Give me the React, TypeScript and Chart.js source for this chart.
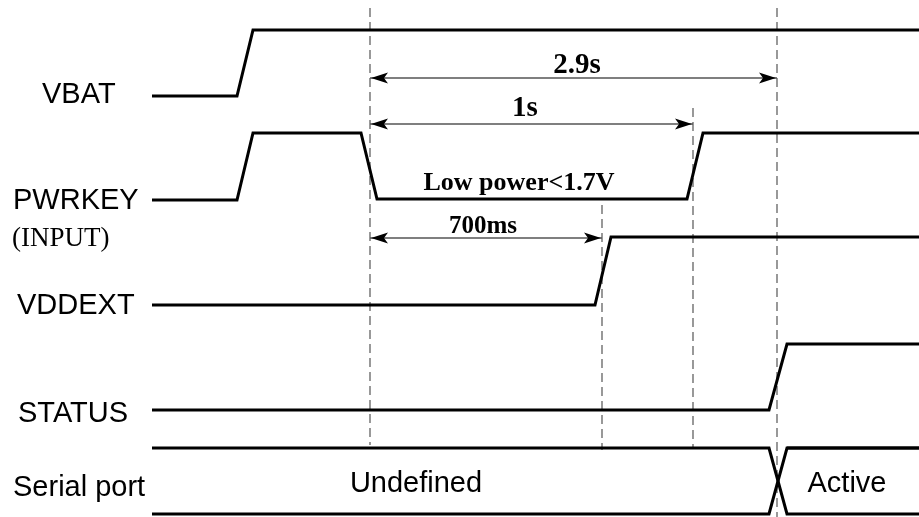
import React, { useEffect, useRef } from "react";
import { Chart, registerables } from "chart.js";

Chart.register(...registerables);

// Timeline (abstract horizontal units) and signal levels (vertical units, top = 0)
const vbatT = [152, 237, 253, 919];
const vbatV = [96, 96, 30, 30];

const pwrkeyT = [152, 237, 253, 361, 377, 687, 703, 919];
const pwrkeyV = [200, 200, 133, 133, 199, 199, 133, 133];

const vddextT = [152, 595, 611, 919];
const vddextV = [305, 305, 237, 237];

const statusT = [152, 769, 787, 919];
const statusV = [410, 410, 344, 344];

// Serial port bus (two rails crossing)
const busUpperT = [152, 769, 787, 919];
const busUpperV = [448, 448, 514, 514];
const busLowerT = [152, 769, 787, 919];
const busLowerV = [514, 514, 448, 448];
const busRightTopT = [787, 919];
const busRightTopV = [448, 448];

// Reference (dashed) markers
const markerT = [370, 602, 693, 777];
const markerFrom = [8, 205, 108, 8];
const markerTo = [445, 450, 448, 517];

// Dimension arrows
const arrowFrom = [370, 370, 370];
const arrowTo = [777, 693, 602];
const arrowLevel = [78, 124, 238];
const arrowText = ["2.9s", "1s", "700ms"];
const arrowTextT = [577, 525, 483];
const arrowTextV = [73, 116, 233];
const arrowTextSize = [29, 29, 25];

// Signal name labels
const signalNames = ["VBAT", "PWRKEY", "VDDEXT", "STATUS", "Serial port"];
const signalNameT = [42, 13, 17, 18, 13];
const signalNameV = [103, 209, 314, 422, 496];

// Other annotations
const noteText = ["(INPUT)", "Low power<1.7V", "Undefined", "Active"];
const noteT = [12, 519, 416, 847];
const noteV = [246, 190, 492, 492];

const pts = (t: number[], v: number[]) => t.map((x, i) => ({ x, y: v[i] }));

const textPlugin = {
  id: "timingText",
  afterDatasetsDraw(chart: any) {
    const { ctx, scales } = chart;
    const xs = scales.x;
    const ys = scales.y;
    ctx.save();
    ctx.fillStyle = "#000";
    ctx.textBaseline = "alphabetic";
    // signal names
    ctx.font = "29px 'Liberation Sans', Arial, sans-serif";
    ctx.textAlign = "left";
    signalNames.forEach((s, i) => {
      ctx.fillText(s, xs.getPixelForValue(signalNameT[i]), ys.getPixelForValue(signalNameV[i]));
    });
    // (INPUT)
    ctx.font = "27px 'Liberation Serif', 'Times New Roman', serif";
    ctx.fillText(noteText[0], xs.getPixelForValue(noteT[0]), ys.getPixelForValue(noteV[0]));
    // Low power
    ctx.font = "bold 26px 'Liberation Serif', 'Times New Roman', serif";
    ctx.textAlign = "center";
    ctx.fillText(noteText[1], xs.getPixelForValue(noteT[1]), ys.getPixelForValue(noteV[1]));
    // Undefined / Active
    ctx.font = "29px 'Liberation Sans', Arial, sans-serif";
    ctx.fillText(noteText[2], xs.getPixelForValue(noteT[2]), ys.getPixelForValue(noteV[2]));
    ctx.fillText(noteText[3], xs.getPixelForValue(noteT[3]), ys.getPixelForValue(noteV[3]));
    // arrow labels
    arrowText.forEach((s, i) => {
      ctx.font = `bold ${arrowTextSize[i]}px 'Liberation Serif', 'Times New Roman', serif`;
      ctx.fillText(s, xs.getPixelForValue(arrowTextT[i]), ys.getPixelForValue(arrowTextV[i]));
    });
    // arrowheads
    const head = (tipX: number, y: number, dir: number) => {
      const L = 17, W = 5.5, N = 4;
      ctx.beginPath();
      ctx.moveTo(tipX, y);
      ctx.lineTo(tipX + dir * L, y - W);
      ctx.lineTo(tipX + dir * (L - N), y);
      ctx.lineTo(tipX + dir * L, y + W);
      ctx.closePath();
      ctx.fill();
    };
    arrowFrom.forEach((f, i) => {
      const y = ys.getPixelForValue(arrowLevel[i]);
      head(xs.getPixelForValue(f) + 1, y, 1);
      head(xs.getPixelForValue(arrowTo[i]) - 1, y, -1);
    });
    ctx.restore();
  },
};

export default function App() {
  const ref = useRef<HTMLCanvasElement | null>(null);
  useEffect(() => {
    if (!ref.current) return;
    const wave = (t: number[], v: number[]) => ({
      data: pts(t, v),
      borderColor: "#000",
      borderWidth: 3,
      pointRadius: 0,
      tension: 0,
      fill: false,
      clip: false as any,
      borderJoinStyle: "miter" as const,
    });
    const datasets: any[] = [
      wave(vbatT, vbatV),
      wave(pwrkeyT, pwrkeyV),
      wave(vddextT, vddextV),
      wave(statusT, statusV),
      wave(busUpperT, busUpperV),
      wave(busLowerT, busLowerV),
      wave(busRightTopT, busRightTopV),
    ];
    markerT.forEach((t, i) => {
      datasets.push({
        data: [
          { x: t, y: markerFrom[i] },
          { x: t, y: markerTo[i] },
        ],
        borderColor: "#555",
        borderWidth: 1.2,
        borderDash: [9, 5],
        pointRadius: 0,
        clip: false,
      });
    });
    arrowFrom.forEach((f, i) => {
      datasets.push({
        data: [
          { x: f, y: arrowLevel[i] },
          { x: arrowTo[i], y: arrowLevel[i] },
        ],
        borderColor: "#000",
        borderWidth: 1.2,
        pointRadius: 0,
        clip: false,
      });
    });
    const chart = new Chart(ref.current, {
      type: "line",
      data: { datasets },
      options: {
        animation: false,
        responsive: false,
        maintainAspectRatio: false,
        layout: { padding: 0 },
        plugins: { legend: { display: false }, tooltip: { enabled: false } },
        scales: {
          x: { type: "linear", min: 0, max: 919, display: false },
          y: { type: "linear", min: 0, max: 517, reverse: true, display: false },
        },
      },
      plugins: [textPlugin],
    });
    return () => chart.destroy();
  }, []);
  return (
    <div style={{ position: "absolute", left: 0, top: 0, width: 919, height: 517, background: "#fff" }}>
      <canvas ref={ref} width={919} height={517} style={{ width: 919, height: 517 }} />
    </div>
  );
}
